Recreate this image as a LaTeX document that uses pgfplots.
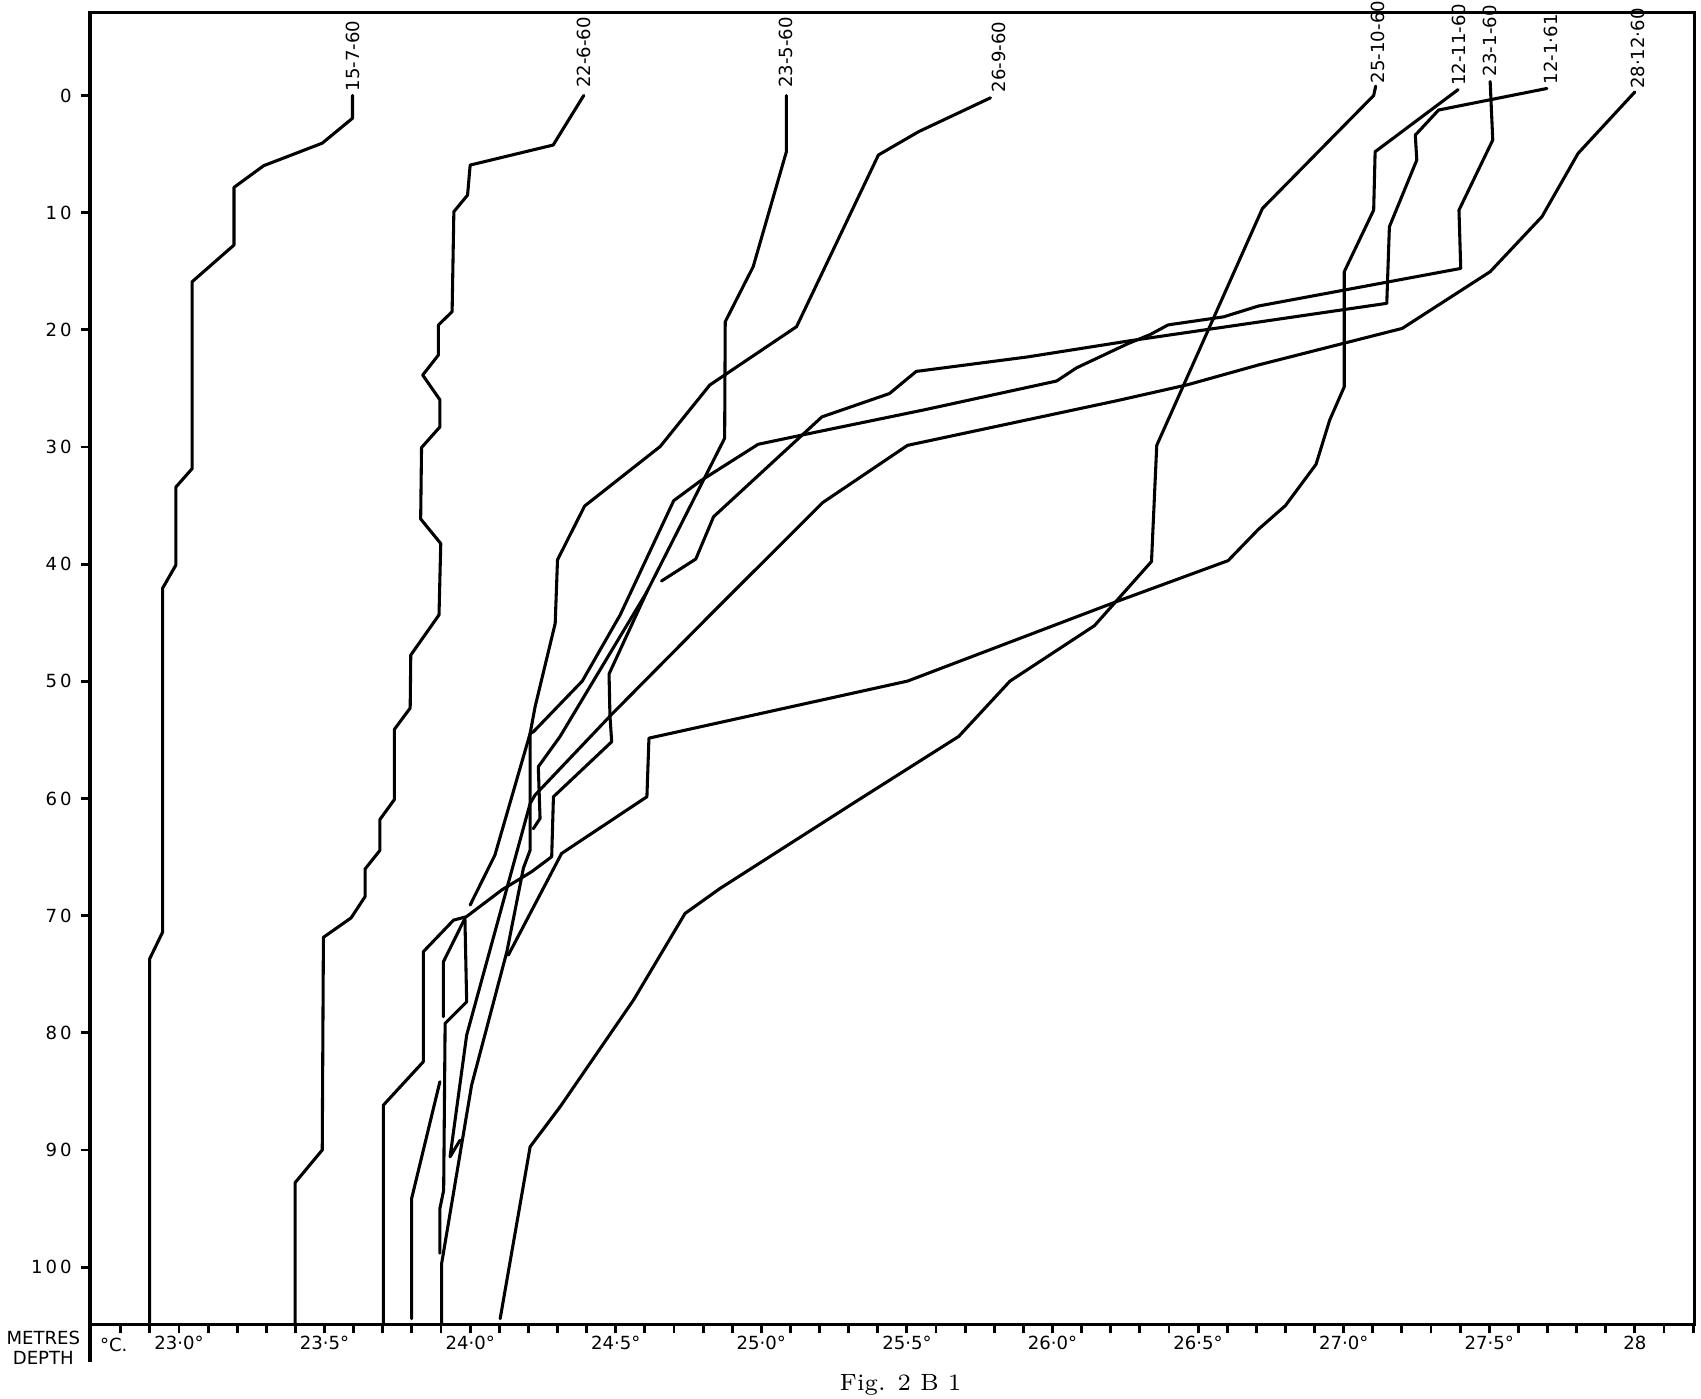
\documentclass[border=0pt]{standalone}
\usepackage{fontspec}
\usepackage{pgfplots}
\pgfplotsset{compat=1.18}
\newfontfamily\hand{DejaVu Sans}
\newcommand\hf{\hand\fontsize{5}{5.6}\selectfont}
\begin{document}
\begin{tikzpicture}
\useasboundingbox (0,0) rectangle (470.4pt,386.7pt);
\begin{axis}[
  at={(24.9pt,20.4pt)}, anchor=south west,
  scale only axis, width=443.7pt, height=362.9pt,
  xmin=22.6945, xmax=28.2049, ymin=-104.9, ymax=7.1,
  axis line style={line width=0.9pt},
  tick align=outside,
  xtick pos=left, ytick pos=left,
  xtick={23,23.5,24,24.5,25,25.5,26,26.5,27,27.5,28},
  xticklabels={23·0°,23·5°,24·0°,24·5°,25·0°,25·5°,26·0°,26·5°,27·0°,27·5°,28},
  minor xtick={22.8,22.9,...,28.15},
  ytick={-100,-90,...,0},
  yticklabels={1\,0\,0,9\,0,8\,0,7\,0,6\,0,5\,0,4\,0,3\,0,2\,0,1\,0,0},
  major tick length=2.4pt, minor tick length=2.4pt,
  tick style={black, line width=0.8pt},
  ticklabel style={font=\hf},
  xticklabel style={inner sep=0.5pt},
  yticklabel style={inner sep=0pt, xshift=-2.5pt},
  clip=false,
  c/.style={black, solid, line width=0.85pt, line join=round, line cap=round, mark=none},
]
% 15-7-60
\addplot[c] coordinates {(23.596,0) (23.596,-1.94) (23.492,-4.07) (23.291,-5.99) (23.189,-7.84) (23.189,-12.76) (23.045,-15.90) (23.045,-31.85) (22.989,-33.43) (22.989,-40.09) (22.944,-42.04) (22.944,-71.39) (22.899,-73.70) (22.899,-104.9)};
% 22-6-60
\addplot[c] coordinates {(24.390,0) (24.285,-4.23) (24.000,-5.94) (23.991,-8.50) (23.944,-9.92) (23.938,-18.45) (23.891,-19.59) (23.891,-22.15) (23.837,-23.86) (23.896,-25.97) (23.896,-28.29) (23.833,-30.05) (23.830,-36.14) (23.899,-38.24) (23.893,-44.33) (23.796,-47.76) (23.794,-52.28) (23.740,-54.09) (23.740,-60.08) (23.690,-61.79) (23.690,-64.43) (23.639,-66.02) (23.639,-68.38) (23.591,-70.19) (23.496,-71.85) (23.492,-90.0) (23.399,-92.78) (23.399,-104.9)};
% 23-5-60
\addplot[c] coordinates {(25.086,0) (25.086,-4.80) (24.972,-14.61) (24.876,-19.31) (24.874,-29.25) (24.607,-42.36) (24.477,-49.37) (24.480,-52.9) (24.486,-55.16) (24.286,-59.85) (24.280,-64.97) (24.211,-66.25) (24.110,-67.78) (23.987,-70.09) (23.943,-70.38) (23.839,-73.08) (23.839,-82.47) (23.702,-86.17) (23.702,-104.9)};
\addplot[c] coordinates {(24.607,-42.36) (24.309,-54.70) (24.234,-57.29) (24.240,-61.70) (24.217,-62.58)};
% 26-9-60
\addplot[c] coordinates {(25.787,-0.2) (25.540,-3.09) (25.402,-5.08) (25.121,-19.73) (24.823,-24.71) (24.653,-29.95) (24.393,-35.04) (24.300,-39.63) (24.292,-45.06) (24.223,-52.17) (24.206,-54.44) (24.085,-64.83) (24.000,-69.09)};
% 25-10-60
\addplot[c] coordinates {(27.110,0.8) (27.103,0) (26.721,-9.64) (26.358,-29.86) (26.340,-39.77) (26.144,-45.25) (25.854,-49.98) (25.678,-54.70) (25.333,-60.13) (24.858,-67.68) (24.738,-69.81) (24.561,-77.20) (24.309,-86.31) (24.206,-89.72) (24.103,-104.4)};
% 12-11-60
\addplot[c] coordinates {(27.393,0.5) (27.108,-4.80) (27.103,-9.78) (27.002,-15.04) (27.002,-24.86) (26.952,-27.70) (26.905,-31.48) (26.800,-35.0) (26.707,-37.03) (26.603,-39.70) (26.228,-43.12) (25.502,-49.98) (24.614,-54.85) (24.607,-59.85) (24.314,-64.69) (24.131,-73.37)};
% 23-1-60
\addplot[c] coordinates {(27.503,1.2) (27.512,-3.80) (27.396,-9.78) (27.402,-14.76) (26.707,-17.97) (26.588,-18.89) (26.397,-19.58) (26.335,-20.41) (26.259,-21.18) (26.083,-23.24) (26.014,-24.37) (25.563,-26.81) (25.165,-28.85) (24.989,-29.77) (24.790,-32.91) (24.699,-34.58) (24.515,-44.34) (24.385,-49.98) (24.217,-54.31) (24.206,-54.44) (24.206,-64.40) (24.183,-65.93) (24.126,-73.08) (24.005,-84.46) (23.902,-99.69) (23.902,-104.9)};
% 12-1-61
\addplot[c] coordinates {(27.698,0.6) (27.326,-1.24) (27.246,-3.38) (27.251,-5.51) (27.157,-11.20) (27.148,-17.74) (26.707,-19.34) (26.267,-20.93) (25.915,-22.31) (25.532,-23.55) (25.440,-25.44) (25.208,-27.43) (24.836,-35.95) (24.775,-39.56) (24.657,-41.44)};
% 28-12-60
\addplot[c] coordinates {(28.000,0.3) (27.805,-4.94) (27.681,-10.34) (27.503,-15.04) (27.201,-19.88) (26.707,-23.0) (26.465,-24.68) (26.221,-26.05) (25.502,-29.86) (25.211,-34.74) (24.836,-44.04) (24.484,-52.87) (24.223,-59.70) (24.206,-60.42) (23.988,-80.19) (23.931,-90.58) (23.965,-89.17)};
% short strands in the tangle
\addplot[c] coordinates {(23.982,-70.23) (23.908,-73.94) (23.908,-78.63)};
\addplot[c] coordinates {(23.982,-70.23) (23.988,-77.35) (23.914,-79.19) (23.909,-93.43) (23.896,-95.0) (23.896,-98.80)};
\addplot[c] coordinates {(23.896,-84.17) (23.799,-94.14) (23.799,-104.4)};
% curve labels
\node[rotate=90, anchor=west, font=\hf, inner sep=0pt] at (axis cs:23.596,0.3) {15-7-60};
\node[rotate=90, anchor=west, font=\hf, inner sep=0pt] at (axis cs:24.390,0.6) {22-6-60};
\node[rotate=90, anchor=west, font=\hf, inner sep=0pt] at (axis cs:25.086,0.6) {23-5-60};
\node[rotate=90, anchor=west, font=\hf, inner sep=0pt] at (axis cs:25.815,0.2) {26-9-60};
\node[rotate=90, anchor=west, font=\hf, inner sep=0pt] at (axis cs:27.117,1.0) {25-10-60};
\node[rotate=90, anchor=west, font=\hf, inner sep=0pt] at (axis cs:27.396,0.75) {12-11-60};
\node[rotate=90, anchor=west, font=\hf, inner sep=0pt] at (axis cs:27.503,1.6) {23-1-60};
\node[rotate=90, anchor=west, font=\hf, inner sep=0pt] at (axis cs:27.712,0.9) {12-1·61};
\node[rotate=90, anchor=west, font=\hf, inner sep=0pt] at (axis cs:28.009,0.5) {28·12·60};
% axis annotations
\node[font=\hf, align=center, inner sep=0pt] at (axis cs:22.534,-106.9) {METRES\\DEPTH};
\node[font=\hf, inner sep=0pt] at (axis cs:22.776,-106.6) {°C.};
\draw[line width=0.9pt] (axis cs:22.6945,-104.9) -- (axis cs:22.6945,-108.1);
\node[anchor=south, font=\fontsize{6.5}{7}\selectfont, inner sep=0pt] at (axis cs:25.478,-111.0) {Fig. 2 B 1};
\end{axis}
\end{tikzpicture}
\end{document}
